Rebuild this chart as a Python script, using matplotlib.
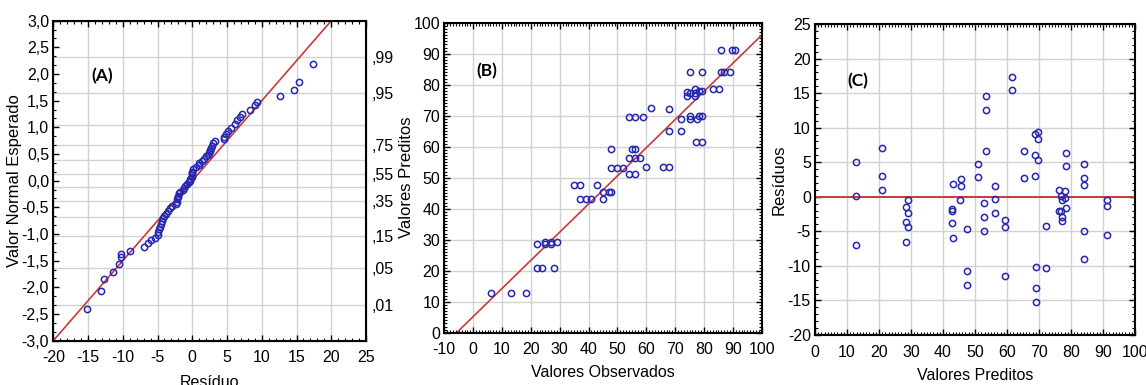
import matplotlib
matplotlib.use('Agg')
import matplotlib.pyplot as plt
from matplotlib.ticker import MultipleLocator, FixedLocator
from statistics import NormalDist

# (A) grafico de probabilidade normal dos residuos
residuo_A = [-15.2, -13.2, -12.7, -11.4, -10.6, -10.2, -10.2, -8.9, -6.9, -6.4,
             -5.9, -5.3, -5.0, -4.9, -4.8, -4.65, -4.5, -4.4, -4.25, -4.0,
             -3.8, -3.45, -3.15, -2.9, -2.3, -2.25, -2.2, -2.1, -2.0, -1.9,
             -1.8, -1.4, -1.2, -1.0, -0.8, -0.5, -0.4, -0.3, -0.1, -0.05,
             0.0, 0.0, 0.1, 0.6, 0.9, 1.0, 1.4, 1.7, 2.0, 2.2,
             2.4, 2.5, 2.6, 2.75, 2.9, 3.0, 3.2, 4.5, 4.6, 4.9,
             5.1, 5.5, 6.2, 6.5, 6.8, 7.1, 8.35, 9.05, 9.35, 12.6,
             14.7, 15.35, 17.4]
esperado_A = [-2.41, -2.06, -1.85, -1.71, -1.57, -1.43, -1.37, -1.31, -1.24, -1.17,
              -1.12, -1.07, -1.01, -0.96, -0.91, -0.86, -0.81, -0.76, -0.70, -0.66,
              -0.62, -0.57, -0.52, -0.48, -0.44, -0.40, -0.35, -0.31, -0.28, -0.24,
              -0.21, -0.17, -0.13, -0.10, -0.07, -0.03, 0.00, 0.04, 0.07, 0.10,
              0.14, 0.17, 0.22, 0.26, 0.30, 0.33, 0.37, 0.41, 0.46, 0.49,
              0.52, 0.55, 0.58, 0.62, 0.66, 0.70, 0.74, 0.78, 0.82, 0.88,
              0.93, 0.98, 1.06, 1.13, 1.20, 1.26, 1.32, 1.42, 1.48, 1.58,
              1.70, 1.86, 2.19]
inclinacao_A = 0.15
prob_rotulos = [0.01, 0.05, 0.15, 0.35, 0.55, 0.75, 0.95, 0.99]
prob_grade = [0.01, 0.05, 0.15, 0.25, 0.35, 0.45, 0.55, 0.65, 0.75, 0.85, 0.95, 0.99]

# (B) observados x preditos
observados_B = [6.1, 13.0, 18.2,
                22.1, 22.1, 24.0, 25.0, 25.0, 27.0, 27.0, 28.0, 28.9,
                34.9, 37.0, 43.0, 37.0, 39.0, 41.0, 45.1, 45.1, 47.2, 47.9,
                47.9, 47.9, 50.0, 52.0, 53.9, 56.0, 57.9, 53.9, 56.0, 54.9, 56.0, 60.0, 65.9, 68.0,
                53.9, 56.0, 59.0, 61.7, 68.0, 68.0, 71.9, 71.9,
                74.0, 74.0, 75.0, 75.0, 75.0, 75.0, 77.0, 77.0, 77.0, 77.7, 78.4, 79.2, 77.1, 79.2, 78.4, 79.2, 79.2,
                83.0, 85.1, 85.9, 89.7, 90.8, 85.9, 86.9, 88.9]
preditos_B = [12.8, 12.8, 12.8,
              28.6, 20.8, 20.8, 29.4, 28.6, 29.4, 28.6, 20.8, 29.4,
              47.5, 47.5, 47.5, 43.0, 43.0, 43.0, 43.0, 45.4, 45.4, 45.4,
              59.4, 53.0, 53.0, 53.0, 56.5, 56.5, 56.5, 51.2, 51.2, 59.4, 59.4, 53.5, 53.5, 53.5,
              69.5, 69.5, 69.5, 72.4, 72.3, 65.2, 65.2, 68.8,
              77.5, 76.3, 77.2, 84.0, 70.0, 68.8, 78.6, 77.4, 76.2, 68.8, 69.9, 69.9, 61.6, 61.6, 78.0, 78.0, 84.0,
              78.6, 78.6, 91.3, 91.3, 91.3, 84.0, 84.0, 84.0]
intercepto_B = 5.2
inclinacao_B = 0.908

# (C) preditos x residuos
preditos_C = [12.8, 12.8, 12.8, 20.8, 20.8, 20.8,
              29.2, 28.3, 29.2, 28.3, 29.2, 28.3,
              43.0, 42.7, 42.9, 42.7, 43.0, 45.5, 45.5, 45.4,
              47.6, 47.6, 47.6, 51.0, 51.0, 52.9, 52.9, 52.9,
              53.4, 53.4, 53.4, 56.3, 56.3, 56.3, 59.3, 59.3, 59.3,
              61.6, 61.6, 65.3, 65.3,
              68.8, 69.6, 69.6, 68.8, 69.6, 68.8, 69.0, 69.0, 69.0,
              72.2, 72.2,
              76.1, 76.1, 76.9, 76.9, 77.1, 77.3, 77.3, 78.1, 78.1, 78.5, 78.5, 78.5,
              84.1, 84.1, 84.1, 84.0, 84.0, 91.4, 91.4, 91.4]
residuos_C = [5.0, 0.1, -7.0, 7.0, 3.0, 1.0,
              -0.4, -1.5, -2.3, -3.6, -4.4, -6.5,
              1.9, -1.8, -2.1, -3.8, -6.0, 2.5, 1.6, -0.4,
              -4.7, -10.7, -12.7, 4.8, 2.8, -0.9, -2.9, -4.9,
              14.6, 12.6, 6.6, 1.6, -0.3, -2.3, -3.4, -4.4, -11.4,
              17.4, 15.4, 6.6, 2.7,
              9.1, 9.4, 8.3, 6.1, 5.3, 3.0, -10.2, -13.2, -15.2,
              -4.2, -10.3,
              1.0, -2.0, 0.1, -2.0, -3.0, -3.5, -0.5, 0.8, -0.2, -1.6, 6.4, 4.4,
              4.8, 2.7, 1.7, -5.0, -9.0, -0.4, -1.4, -5.5]

plt.rcParams['font.family'] = ['Liberation Sans', 'DejaVu Sans']
plt.rcParams['axes.unicode_minus'] = False

azul = '#2626b0'
vermelho = '#c83a3a'
cinza = '#d2d2d2'


def estilo(ax, mx, my):
    ax.xaxis.set_minor_locator(MultipleLocator(mx))
    ax.yaxis.set_minor_locator(MultipleLocator(my))
    ax.tick_params(which='both', direction='in', top=True, right=True, labelsize=11.5)
    ax.tick_params(which='major', length=4, width=1)
    ax.tick_params(which='minor', length=2.5, width=0.8)
    ax.tick_params(axis='x', pad=7)
    ax.tick_params(axis='y', pad=3)
    for s in ax.spines.values():
        s.set_linewidth(1.5)
    ax.set_axisbelow(True)


def pontos(ax, x, y):
    ax.plot(x, y, 'o', mfc='none', mec=azul, ms=4.5, mew=1.1, zorder=3)


def rotulo(ax, txt, x, y):
    ax.text(x, y, txt, transform=ax.transAxes, ha='center', va='center',
            fontsize=12.5, fontweight='bold', family=['Lato', 'DejaVu Sans'])


def virgula(v, casas):
    return f'{v:.{casas}f}'.replace('.', ',')


fig = plt.figure(figsize=(11.46, 3.85), dpi=100)

# ----- (A)
axA = fig.add_axes([0.0465, 0.1151, 0.2729, 0.8311])
estilo(axA, 1, 0.5 / 3)
axA.set_xlim(-20, 25)
axA.set_ylim(-3, 3)
axA.xaxis.set_major_locator(MultipleLocator(5))
yt = [-3 + 0.5 * i for i in range(13)]
axA.set_yticks(yt)
axA.set_yticklabels([virgula(v, 1) for v in yt])
axA.grid(axis='x', color=cinza, lw=1)
for p in prob_grade:
    axA.axhline(NormalDist().inv_cdf(p), color=cinza, lw=1, zorder=0)
axA.axline((0, 0), slope=inclinacao_A, color=vermelho, lw=1.2, zorder=2)
pontos(axA, residuo_A, esperado_A)
rotulo(axA, '(A)', 0.156, 0.827)
axA.set_ylabel('Valor Normal Esperado', fontsize=12)
axA.yaxis.set_label_coords(-0.10, 0.5)
axA.set_xlabel('Resíduo', fontsize=11.5, va='top')
axA.xaxis.set_label_coords(0.5, -0.107)

axR = axA.twinx()
axR.set_ylim(-3, 3)
axR.yaxis.set_major_locator(FixedLocator([NormalDist().inv_cdf(p) for p in prob_rotulos]))
axR.set_yticklabels([virgula(p, 2)[1:] for p in prob_rotulos])
axR.tick_params(axis='y', length=0, pad=4, labelsize=11.5)
axR.yaxis.set_minor_locator(FixedLocator([]))

# ----- (B)
axB = fig.add_axes([0.3877, 0.1358, 0.2770, 0.8052])
estilo(axB, 1, 1)
axB.set_xlim(-10, 100)
axB.set_ylim(0, 100)
axB.xaxis.set_major_locator(MultipleLocator(10))
axB.yaxis.set_major_locator(MultipleLocator(10))
axB.grid(color=cinza, lw=1)
axB.axline((0, intercepto_B), slope=inclinacao_B, color=vermelho, lw=1.2, zorder=2)
pontos(axB, observados_B, preditos_B)
rotulo(axB, '(B)', 0.135, 0.844)
axB.set_ylabel('Valores Preditos', fontsize=12)
axB.yaxis.set_label_coords(-0.095, 0.5)
axB.set_xlabel('Valores Observados', fontsize=11.5, va='top')
axB.xaxis.set_label_coords(0.5, -0.104)

# ----- (C)
axC = fig.add_axes([0.7112, 0.1299, 0.2792, 0.8078])
estilo(axC, 1, 1)
axC.set_xlim(0, 100)
axC.set_ylim(-20, 25)
axC.xaxis.set_major_locator(MultipleLocator(10))
axC.yaxis.set_major_locator(MultipleLocator(5))
axC.grid(color=cinza, lw=1)
axC.axhline(0, color=vermelho, lw=1.4, zorder=2)
pontos(axC, preditos_C, residuos_C)
rotulo(axC, '(C)', 0.135, 0.817)
axC.set_ylabel('Resíduos', fontsize=12)
axC.yaxis.set_label_coords(-0.09, 0.5)
axC.set_xlabel('Valores Preditos', fontsize=11.5, va='top')
axC.xaxis.set_label_coords(0.5, -0.106)

fig.savefig('out.png', dpi=100)
